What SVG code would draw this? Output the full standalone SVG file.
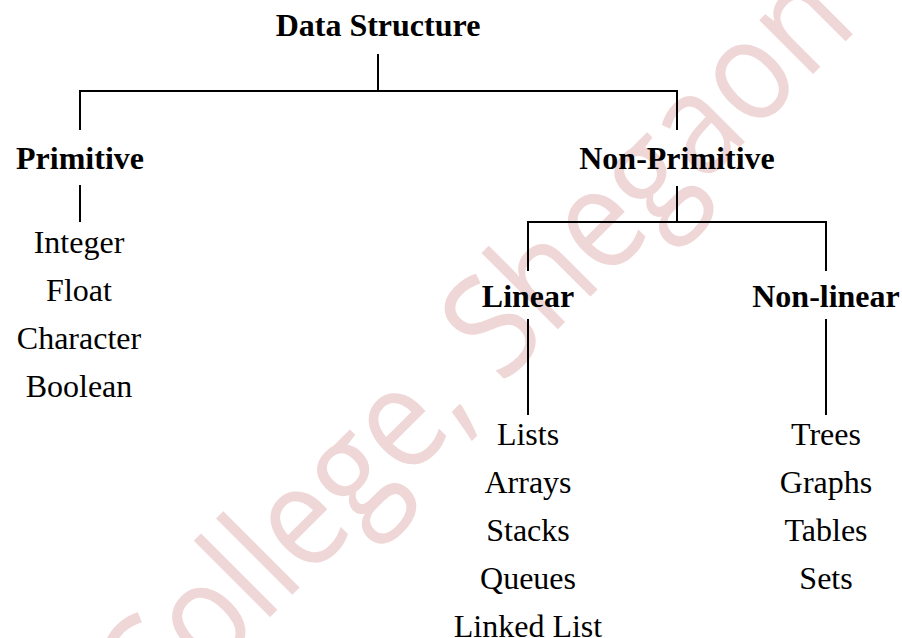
<svg xmlns="http://www.w3.org/2000/svg" width="902" height="638" viewBox="0 0 902 638">
<style>
.wm{font-family:"Open Sans","DejaVu Sans",sans-serif;font-size:142px;font-weight:500;fill:#efd6d7}
.h{font-family:"Liberation Serif","Times New Roman",serif;font-size:32px;font-weight:bold;fill:#000;text-anchor:middle}
.t{font-family:"Liberation Serif","Times New Roman",serif;font-size:32px;fill:#000;text-anchor:middle}
.c line{stroke:#000;stroke-width:2}
</style>
<rect width="902" height="638" fill="#fff"/>
<text class="wm" transform="translate(153,734) rotate(-45)" textLength="1000" lengthAdjust="spacingAndGlyphs">College, Shegaon</text>
<g id="connectors" class="c">
<line x1="378" y1="54" x2="378" y2="91"/>
<line x1="79" y1="91" x2="678" y2="91"/>
<line x1="80" y1="90" x2="80" y2="130"/>
<line x1="677" y1="90" x2="677" y2="130"/>
<line x1="80" y1="185" x2="80" y2="222"/>
<line x1="677" y1="186" x2="677" y2="222"/>
<line x1="527" y1="222" x2="827" y2="222"/>
<line x1="528" y1="221" x2="528" y2="271"/>
<line x1="826" y1="221" x2="826" y2="271"/>
<line x1="528" y1="319" x2="528" y2="415"/>
<line x1="826" y1="319" x2="826" y2="415"/>
</g>
<g id="data-structure"><text class="h" x="378" y="36">Data Structure</text></g>
<g id="primitive"><text class="h" x="80" y="169">Primitive</text></g>
<g id="non-primitive"><text class="h" x="677" y="169">Non-Primitive</text></g>
<g id="linear"><text class="h" x="528" y="307">Linear</text></g>
<g id="non-linear"><text class="h" x="826" y="307">Non-linear</text></g>
<g id="primitive-list">
<text class="t" x="79" y="253">Integer</text>
<text class="t" x="79" y="301">Float</text>
<text class="t" x="79" y="349">Character</text>
<text class="t" x="79" y="397">Boolean</text>
</g>
<g id="linear-list">
<text class="t" x="528" y="445">Lists</text>
<text class="t" x="528" y="493">Arrays</text>
<text class="t" x="528" y="541">Stacks</text>
<text class="t" x="528" y="589">Queues</text>
<text class="t" x="528" y="637">Linked List</text>
</g>
<g id="non-linear-list">
<text class="t" x="826" y="445">Trees</text>
<text class="t" x="826" y="493">Graphs</text>
<text class="t" x="826" y="541">Tables</text>
<text class="t" x="826" y="589">Sets</text>
</g>
</svg>
